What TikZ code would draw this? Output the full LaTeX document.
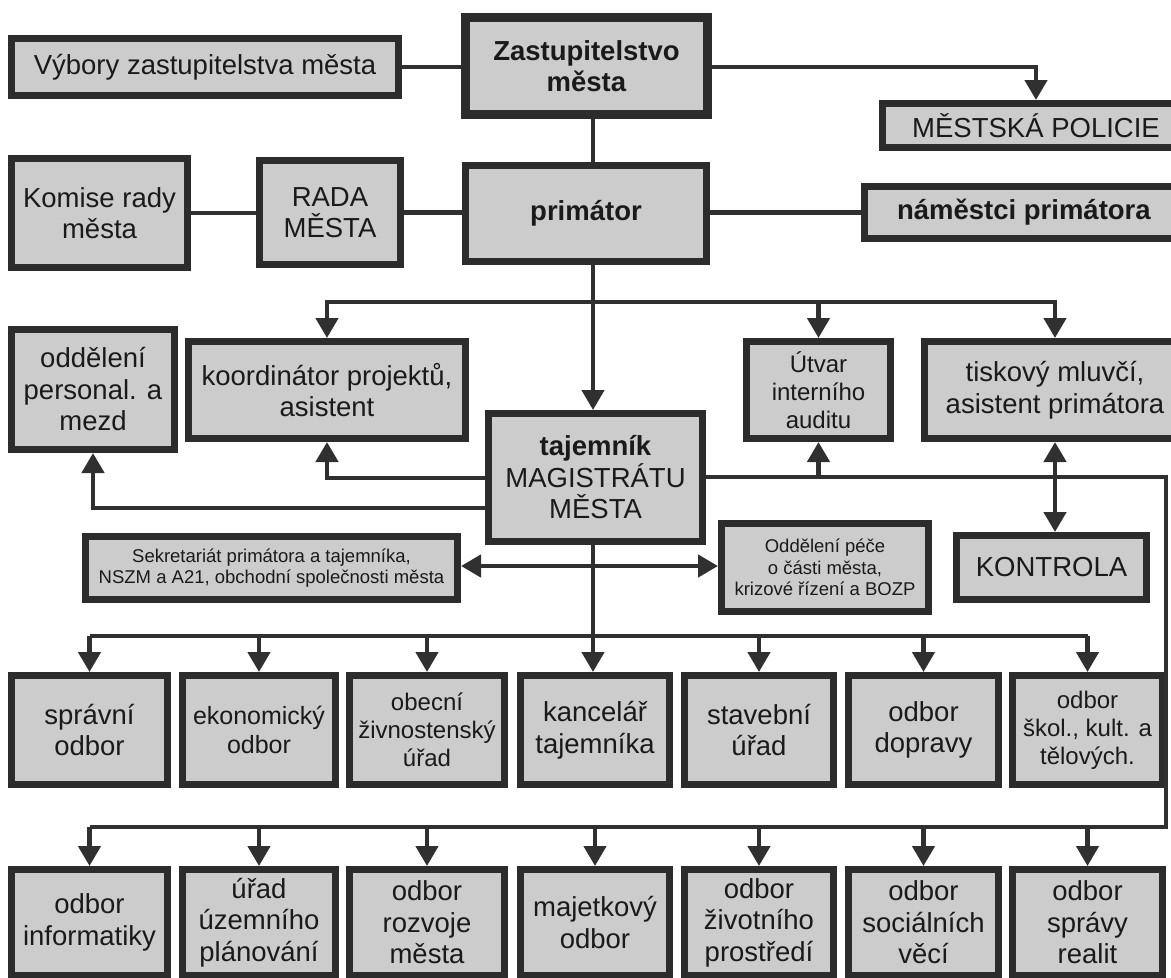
\documentclass[tikz,border=0pt]{standalone}
\usepackage{fontspec}
\setmainfont{Liberation Sans}
\usetikzlibrary{arrows.meta}
\definecolor{bd}{HTML}{2C2C2C}
\definecolor{bf}{HTML}{CCCCCC}
\definecolor{ln}{HTML}{303030}
\definecolor{tx}{HTML}{1A1A1A}
\newcommand{\myfs}[2]{\fontsize{#1}{#2}\selectfont}
\tikzset{
  box/.style={draw=bd, fill=bf, line width=7pt, inner sep=0pt, align=center, text=tx, font=\myfs{27.5}{31.5}},
  thickbox/.style={box, line width=9pt},
  conn/.style={draw=ln, line width=4.5pt},
  arr/.style={conn, -{Triangle[width=22pt,length=20pt]}},
  darr/.style={conn, {Triangle[width=22pt,length=20pt]}-{Triangle[width=22pt,length=20pt]}},
  smallf/.style={font=\myfs{24}{28}},
  tinyf/.style={font=\myfs{18.5}{21.5}}
}
\begin{document}
\begin{tikzpicture}[x=1pt,y=-1pt]
\useasboundingbox (0,0) rectangle (1171,978);
\clip (0,0) rectangle (1171,978);
\fill[white] (0,0) rectangle (1171,978);

% coordinates for connector levels
\coordinate (tr) at (593,0);
\coordinate (b1) at (593,302);
\coordinate (yk) at (0,478);
\coordinate (yp) at (0,508);
\coordinate (yr) at (0,477);
\coordinate (ys) at (0,566);
\coordinate (r4y) at (0,636);
\coordinate (rc) at (1166,827);

% top rows
\node[box, minimum width=387pt, minimum height=57pt] (vybory) at (205,67) {Výbory zastupitelstva města};
\node[thickbox, minimum width=242pt, minimum height=97pt] (zast) at (586.5,66) {\textbf{Zastupitelstvo}\\\textbf{města}};
\node[box, minimum width=307pt, minimum height=44pt] (policie) at (1036,125.5) {MĚSTSKÁ POLICIE};
\node[box, minimum width=176pt, minimum height=109pt] (komise) at (99.5,213) {Komise rady\\města};
\node[box, minimum width=141pt, minimum height=104pt] (rada) at (330,212.5) {RADA\\MĚSTA};
\node[box, minimum width=241pt, minimum height=96pt] (primator) at (586,213.5) {\textbf{primátor}};
\node[box, minimum width=319pt, minimum height=52pt] (namestci) at (1024,212.5) {\textbf{náměstci primátora}};

% middle
\node[box, minimum width=163pt, minimum height=120pt] (personal) at (93,389.5) {oddělení\\personal. a\\mezd};
\node[box, minimum width=277pt, minimum height=97pt] (koord) at (327,390) {koordinátor projektů,\\asistent};
\node[box, smallf, minimum width=144pt, minimum height=97pt] (utvar) at (818.5,390) {Útvar\\interního\\auditu};
\node[box, minimum width=261pt, minimum height=97pt] (tiskovy) at (1055,390) {tiskový mluvčí,\\asistent primátora};
\node[box, minimum width=214pt, minimum height=128pt] (tajemnik) at (595.5,477.5) {\textbf{tajemník}\\MAGISTRÁTU\\MĚSTA};
\node[box, tinyf, minimum width=372pt, minimum height=63pt] (sekr) at (271.5,568) {Sekretariát primátora a tajemníka,\\NSZM a A21, obchodní společnosti města};
\node[box, tinyf, minimum width=207pt, minimum height=88pt] (pece) at (825,567.5) {Oddělení péče\\o části města,\\krizové řízení a BOZP};
\node[box, minimum width=190pt, minimum height=64pt] (kontrola) at (1051.5,567.5) {KONTROLA};

% row 4
\node[box, minimum width=156pt, minimum height=109pt] (spravni) at (89.5,730) {správní\\odbor};
\node[box, font=\myfs{25}{29}, minimum width=153pt, minimum height=109pt] (ekon) at (259,730) {ekonomický\\odbor};
\node[box, smallf, minimum width=155pt, minimum height=109pt] (obecni) at (427,730) {obecní\\živnostenský\\úřad};
\node[box, minimum width=149pt, minimum height=109pt] (kanc) at (595,730) {kancelář\\tajemníka};
\node[box, minimum width=149pt, minimum height=109pt] (stav) at (759,730) {stavební\\úřad};
\node[box, minimum width=150pt, minimum height=109pt] (dopr) at (923.5,730) {odbor\\dopravy};
\node[box, smallf, minimum width=150pt, minimum height=109pt] (skol) at (1087.5,730) {odbor\\škol., kult. a\\tělových.};

% row 5
\node[box, minimum width=156pt, minimum height=106pt] (inf) at (89.5,922.5) {odbor\\informatiky};
\node[box, minimum width=153pt, minimum height=106pt] (uzem) at (259,922.5) {úřad\\územního\\plánování};
\node[box, minimum width=155pt, minimum height=106pt] (rozv) at (427,922.5) {odbor\\rozvoje\\města};
\node[box, minimum width=149pt, minimum height=106pt] (maj) at (595,922.5) {majetkový\\odbor};
\node[box, minimum width=149pt, minimum height=106pt] (ziv) at (759,922.5) {odbor\\životního\\prostředí};
\node[box, minimum width=150pt, minimum height=106pt] (soc) at (923.5,922.5) {odbor\\sociálních\\věcí};
\node[box, minimum width=150pt, minimum height=106pt] (real) at (1087.5,922.5) {odbor\\správy\\realit};

% connectors top
\draw[conn] (vybory.east) -- (vybory.east -| zast.west);
\draw[arr] (zast.east |- vybory.east) -| (policie.north);
\draw[conn] (zast.south -| tr) -- (primator.north -| tr);
\draw[conn] (komise.east) -- (komise.east -| rada.west);
\draw[conn] (rada.east) -- (rada.east -| primator.west);
\draw[conn] (primator.east |- namestci.west) -- (namestci.west);

% primator branch
\draw[arr] (primator.south -| tr) -- (tajemnik.north -| tr);
\draw[arr] (b1) -| (koord.north);
\draw[arr] (b1) -| (utvar.north);
\draw[arr] (b1) -| (tiskovy.north);

% tajemnik side links
\draw[arr] (tajemnik.west |- yk) -| (koord.south);
\draw[arr] (tajemnik.west |- yp) -| (personal.south);
\draw[arr] (tajemnik.east |- yr) -| (utvar.south);
\draw[conn] (tajemnik.east |- yr) -| (rc) -- (rc -| inf.north);
\draw[darr] (tiskovy.south) -- (tiskovy.south |- kontrola.north);
\draw[darr] (sekr.east |- ys) -- (pece.west |- ys);

% row 4 distribution
\draw[conn] (tajemnik.south -| tr) -- (tr |- r4y);
\draw[conn] (spravni.north |- r4y) -- (skol.north |- r4y);
\draw[arr] (spravni.north |- r4y) -- (spravni.north);
\draw[arr] (ekon.north |- r4y) -- (ekon.north);
\draw[arr] (obecni.north |- r4y) -- (obecni.north);
\draw[arr] (tr |- r4y) -- (kanc.north -| tr);
\draw[arr] (stav.north |- r4y) -- (stav.north);
\draw[arr] (dopr.north |- r4y) -- (dopr.north);
\draw[arr] (skol.north |- r4y) -- (skol.north);

% row 5 distribution
\draw[arr] (rc -| inf.north) -- (inf.north);
\draw[arr] (rc -| uzem.north) -- (uzem.north);
\draw[arr] (rc -| rozv.north) -- (rozv.north);
\draw[arr] (rc -| maj.north) -- (maj.north);
\draw[arr] (rc -| ziv.north) -- (ziv.north);
\draw[arr] (rc -| soc.north) -- (soc.north);
\draw[arr] (rc -| real.north) -- (real.north);
\end{tikzpicture}
\end{document}
